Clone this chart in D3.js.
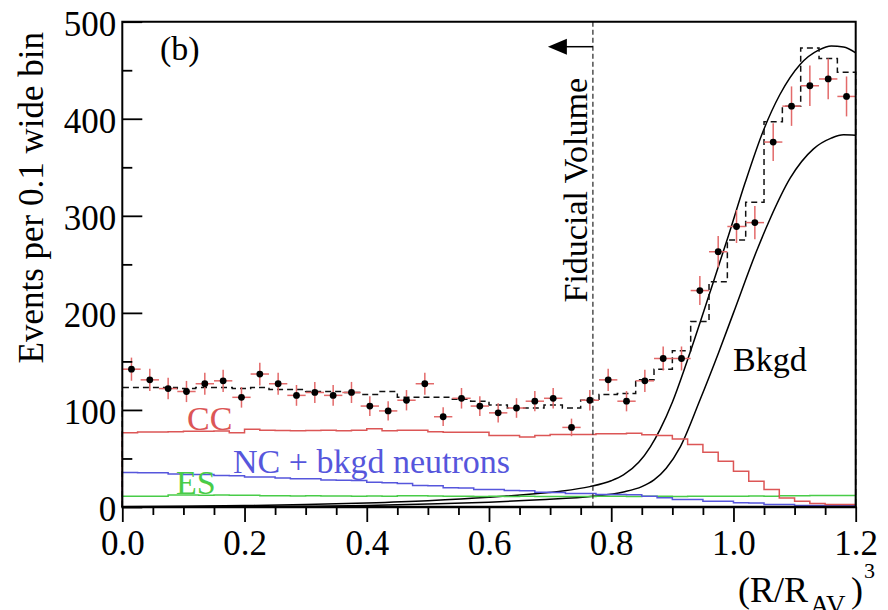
<!DOCTYPE html>
<html>
<head>
<meta charset="utf-8">
<script src="https://cdn.jsdelivr.net/npm/d3@7"></script>
<style>
  body { margin: 0; background: #fff; }
  svg { display: block; }
</style>
</head>
<body>
<div id="chart"></div>
<script>

/* ---- data ---- */

// axis ticks
const xTicks = [0, 0.2, 0.4, 0.6, 0.8, 1.0, 1.2]
const xMinor = [0.05, 0.1, 0.15, 0.25, 0.3, 0.35, 0.45, 0.5, 0.55, 0.65, 0.7, 0.75, 0.85, 0.9, 0.95, 1.05, 1.1, 1.15]
const yTicks = [0, 100, 200, 300, 400, 500]
const yMinor = [50, 150, 250, 350, 450]

// data points, 40 bins of 0.03 in (R/R_AV)^3
const dataBinWidth = 0.03
const counts = [142, 131, 122, 119, 127, 130, 113, 137, 127, 115,
                118, 115, 118, 104, 99, 110, 127, 93, 112, 104,
                97, 102, 109, 112, 82, 110, 131, 109, 130, 153,
                153, 223, 263, 289, 293, 376, 413, 434, 441, 423]

// total fit (dashed), same binning as the data
const totalFit = [123, 123, 123, 122, 123, 123, 122, 123, 121, 121,
                  119, 119, 118, 116, 119, 113, 113, 113, 111, 109,
                  105, 102, 102, 105, 102, 110, 116, 117, 131, 142,
                  161, 191, 232, 275, 314, 397, 413, 473, 462, 448]

// signal pdfs, 48 bins of 0.025
const pdfBinWidth = 0.025
const ccPdf = [76.4, 77.4, 77.4, 77.5, 78, 78, 78.2, 76.5, 80, 79,
               78.8, 78.5, 78.8, 79, 78.6, 79, 80.6, 78.5, 79, 79,
               77.5, 77, 77, 77, 73.6, 73.6, 72, 73.6, 74.7, 74.7,
               74.7, 75.5, 75.5, 76, 74.5, 73.6, 70, 64.4, 56.4, 47.2,
               36.9, 26.6, 18, 9.4, 6, 3.6, 2.6, 2.6]
const ncPdf = [35.5, 35.3, 35.2, 34, 33.5, 33.5, 32.5, 32.2, 31, 31,
               30, 29, 29, 27.8, 27.6, 27.2, 25.6, 25, 24.3, 22.2,
               22, 19.8, 19.6, 18, 18, 17, 16.8, 15.2, 15, 14,
               13.8, 12.9, 12.9, 12.5, 11.1, 9.5, 7.7, 7.6, 6, 5.9,
               4.3, 4.2, 2.6, 2.5, 1.5, 1.5, 1.4, 1.3]
const esPdf = [11.2, 11.2, 11.2, 12.3, 12.4, 12.2, 12.3, 12.1, 12.0, 11.5,
               11.6, 11.4, 11.5, 11.3, 11.4, 11.2, 11.3, 11.0, 11.6, 11.5,
               11.3, 11.0, 11.1, 10.9, 11.0, 10.8, 11.0, 10.9, 10.8, 10.9,
               10.8, 11.0, 11.1, 10.9, 11.0, 11.1, 10.9, 11.0, 11.1, 11.2,
               11.1, 11.3, 11.2, 11.5, 11.6, 11.8, 11.8, 11.8]

// background curves (upper / lower band)
const bkgdHiX = [0, 0.1, 0.2, 0.3, 0.4, 0.5, 0.6, 0.68, 0.72, 0.765, 0.8, 0.82, 0.845, 0.864, 0.88,
                 0.9, 0.924, 0.962, 0.992, 1.019, 1.049, 1.076, 1.109, 1.14, 1.16, 1.18, 1.2]
const bkgdHiY = [0.3, 0.8, 1.5, 2.6, 4.2, 6.5, 10, 14, 16.5, 21, 27, 33, 46, 62, 80,
                 108, 150, 222, 280, 334, 388, 425, 456, 471, 475, 474, 468]
const bkgdLoX = [0, 0.2, 0.3, 0.4, 0.5, 0.6, 0.683, 0.77, 0.82, 0.85, 0.87, 0.89, 0.913, 0.945,
                 0.975, 1.0, 1.038, 1.06, 1.093, 1.131, 1.16, 1.18, 1.2]
const bkgdLoY = [0, 0.3, 0.8, 1.5, 3, 5, 7.5, 11, 15.5, 21, 28, 40, 62, 110,
                 158, 200, 264, 297, 339, 369, 380, 383.5, 383]

const fiducialCut = 0.77

/* ---- setup ---- */

const W = 888, H = 610
const serif = "'Liberation Serif', 'Times New Roman', Times, serif"
const red = "#dc5656", redBar = "#e36a6a", blue = "#5656dc", green = "#48cc48"

const svg = d3.select("#chart").append("svg")
    .attr("width", W)
    .attr("height", H)

const x = d3.scaleLinear().domain([0, 1.2]).range([122.3, 855.7])
const y = d3.scaleLinear().domain([0, 500]).range([507, 21.7])

// step outline of a histogram, closed down to zero at both ends
function histPath(values, width) {
  let pts = [[0, 0]]
  values.forEach(function (v, i) {
    pts.push([i * width, v])
    pts.push([(i + 1) * width, v])
  })
  pts.push([values.length * width, 0])
  return d3.line().x(d => x(d[0])).y(d => y(d[1]))(pts)
}

/* ---- background curves ---- */

const curve = d3.line().x(d => x(d[0])).y(d => y(d[1])).curve(d3.curveMonotoneX)

svg.append("path")
    .attr("d", curve(bkgdHiX.map((v, i) => [v, bkgdHiY[i]])))
    .attr("fill", "none").attr("stroke", "#000").attr("stroke-width", 1.5)
svg.append("path")
    .attr("d", curve(bkgdLoX.map((v, i) => [v, bkgdLoY[i]])))
    .attr("fill", "none").attr("stroke", "#000").attr("stroke-width", 1.5)

/* ---- histograms ---- */

svg.append("path").attr("d", histPath(esPdf, pdfBinWidth))
    .attr("fill", "none").attr("stroke", green).attr("stroke-width", 1.5)
svg.append("path").attr("d", histPath(ncPdf, pdfBinWidth))
    .attr("fill", "none").attr("stroke", blue).attr("stroke-width", 1.5)
svg.append("path").attr("d", histPath(ccPdf, pdfBinWidth))
    .attr("fill", "none").attr("stroke", red).attr("stroke-width", 1.5)
svg.append("path").attr("d", histPath(totalFit, dataBinWidth))
    .attr("fill", "none").attr("stroke", "#111").attr("stroke-width", 1.5)
    .attr("stroke-dasharray", "6,4")

/* ---- fiducial volume cut ---- */

svg.append("line")
    .attr("x1", x(fiducialCut)).attr("x2", x(fiducialCut))
    .attr("y1", y(500)).attr("y2", y(0))
    .attr("stroke", "#222").attr("stroke-width", 1.2)
    .attr("stroke-dasharray", "5,3")

const arrowY = 46.7
svg.append("line")
    .attr("x1", x(fiducialCut)).attr("x2", x(fiducialCut) - 28)
    .attr("y1", arrowY).attr("y2", arrowY)
    .attr("stroke", "#000").attr("stroke-width", 1.5)
svg.append("path")
    .attr("d", "M" + (x(fiducialCut) - 45) + "," + arrowY +
               "L" + (x(fiducialCut) - 26) + "," + (arrowY - 8) +
               "L" + (x(fiducialCut) - 26) + "," + (arrowY + 8) + "Z")
    .attr("fill", "#000")

svg.append("text")
    .attr("transform", "translate(587,78) rotate(-90)")
    .attr("text-anchor", "end")
    .attr("font-size", 34)
    .text("Fiducial Volume")

/* ---- data points ---- */

const pts = svg.append("g")
counts.forEach(function (n, i) {
  let cx = (i + 0.5) * dataBinWidth
  let err = Math.sqrt(n)
  pts.append("line")
      .attr("x1", x(i * dataBinWidth)).attr("x2", x((i + 1) * dataBinWidth))
      .attr("y1", y(n)).attr("y2", y(n))
      .attr("stroke", redBar).attr("stroke-width", 1.5)
  pts.append("line")
      .attr("x1", x(cx)).attr("x2", x(cx))
      .attr("y1", y(n - err)).attr("y2", y(n + err))
      .attr("stroke", redBar).attr("stroke-width", 1.5)
  pts.append("circle")
      .attr("cx", x(cx)).attr("cy", y(n)).attr("r", 3.4)
      .attr("fill", "#000")
})

/* ---- frame and axes ---- */

svg.append("path")
    .attr("d", "M" + x(0) + "," + y(0) + "V" + y(500) + "H" + x(1.2) + "V" + y(0))
    .attr("fill", "none").attr("stroke", "#000").attr("stroke-width", 2)

function styleAxis(g, withLabels) {
  g.select(".domain").remove()
  g.selectAll("line").attr("stroke-width", 1.8)
  if (withLabels) g.selectAll("text").attr("font-size", 35)
}

let yAxis = svg.append("g").attr("transform", "translate(" + x(0) + ",0)")
    .call(d3.axisLeft(y).tickValues(yTicks).tickSize(-20).tickPadding(6).tickFormat(d3.format("d")))
styleAxis(yAxis, true)
yAxis.selectAll("text").attr("dy", "0.38em")

let yAxisMinor = svg.append("g").attr("transform", "translate(" + x(0) + ",0)")
    .call(d3.axisLeft(y).tickValues(yMinor).tickSize(-10).tickFormat(""))
styleAxis(yAxisMinor, false)

let xAxis = svg.append("g").attr("transform", "translate(0," + y(0) + ")")
    .call(d3.axisBottom(x).tickValues(xTicks).tickSize(15).tickFormat(d3.format(".1f")))
styleAxis(xAxis, true)
xAxis.selectAll("text").attr("y", 48).attr("dy", null)

let xAxisMinor = svg.append("g").attr("transform", "translate(0," + y(0) + ")")
    .call(d3.axisBottom(x).tickValues(xMinor).tickSize(8).tickFormat(""))
styleAxis(xAxisMinor, false)

svg.append("line")
    .attr("x1", x(0) - 1).attr("x2", x(1.2) + 1)
    .attr("y1", y(0)).attr("y2", y(0))
    .attr("stroke", "#000").attr("stroke-width", 2.6)

/* ---- titles and labels ---- */

svg.append("text")
    .attr("transform", "translate(43,32) rotate(-90)")
    .attr("text-anchor", "end")
    .attr("font-size", 35)
    .text("Events per 0.1 wide bin")

svg.append("text").attr("x", 738).attr("y", 602).attr("font-size", 36).text("(R/R")
svg.append("text").attr("x", 810).attr("y", 614).attr("font-size", 27).text("AV")
svg.append("text").attr("x", 851).attr("y", 602).attr("font-size", 36).text(")")
svg.append("text").attr("x", 864).attr("y", 578).attr("font-size", 22).text("3")

svg.append("text").attr("x", 160).attr("y", 60).attr("font-size", 34).text("(b)")
svg.append("text").attr("x", 187).attr("y", 430).attr("font-size", 34).attr("fill", red).text("CC")
svg.append("text").attr("x", 233).attr("y", 473).attr("font-size", 34).attr("fill", blue).text("NC + bkgd neutrons")
svg.append("text").attr("x", 176).attr("y", 494).attr("font-size", 34).attr("fill", green).text("ES")
svg.append("text").attr("x", 733).attr("y", 371).attr("font-size", 34).text("Bkgd")

// every text in the serif face (axis groups default to sans-serif)
svg.selectAll("g").attr("font-family", serif)
svg.selectAll("text").attr("font-family", serif)

</script>
</body>
</html>
